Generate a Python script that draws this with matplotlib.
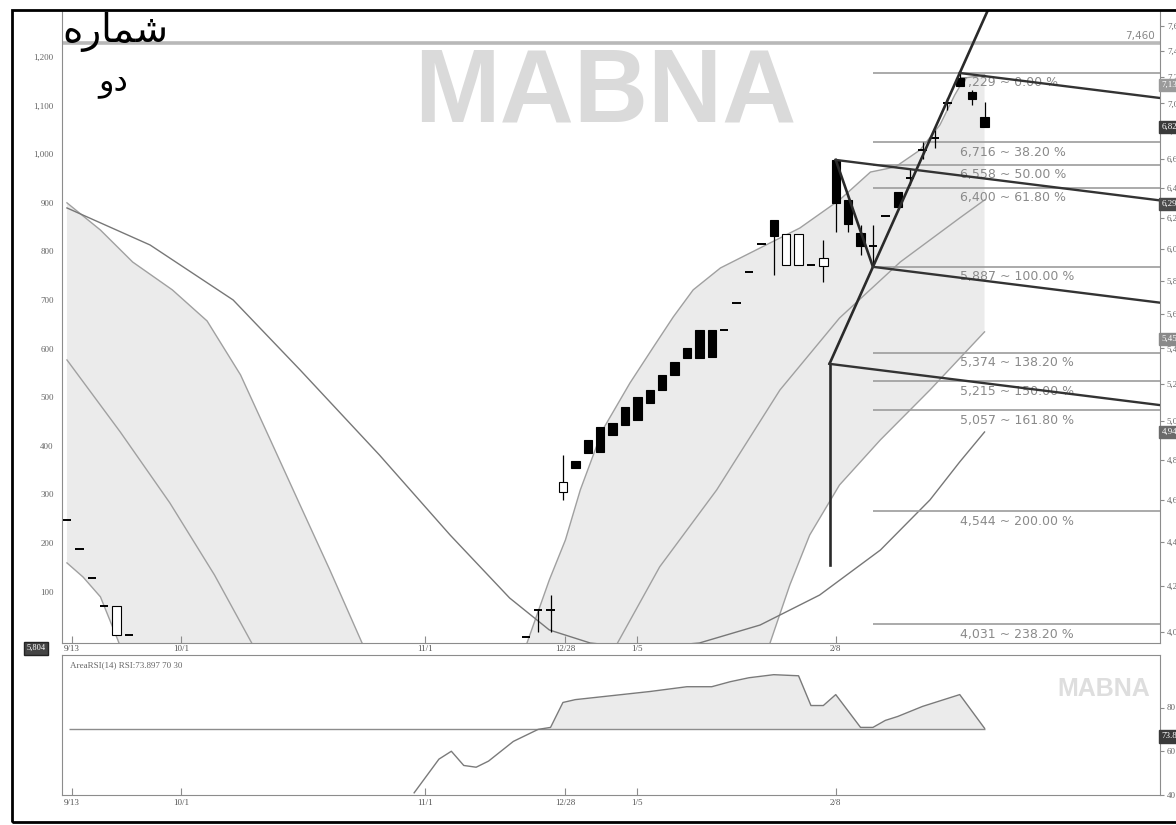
import numpy as np
import matplotlib
matplotlib.use("Agg")
import matplotlib.pyplot as plt
from matplotlib.patches import Rectangle
from matplotlib.ticker import FixedLocator, FuncFormatter, NullLocator

bar_no = [1, 2, 3, 4, 5, 6,
          38, 39, 40, 41, 42, 43, 44, 45, 46, 47, 48, 49, 50, 51, 52, 53, 54, 55, 56, 57,
          58, 59, 60, 61, 62, 63, 64, 65, 66, 67, 68, 69, 70, 71, 72, 73, 74, 75]
op = [4502, 4366, 4234, 4110, 3986, 3986,
      3977, 4093, 4093, 4638, 4793, 4901, 4968, 4990, 5075, 5129, 5167, 5250, 5323, 5402, 5506, 5506, 5506, 5666, 5855, 6031,
      6187, 5899, 5899, 5899, 5892, 6593, 6319, 6102, 6020, 6213, 6373, 6470, 6660, 6750, 7000, 7191, 7085, 6900]
hi = [4502, 4366, 4234, 4110, 4110, 3986,
      3977, 4093, 4158, 4823, 4793, 4901, 4968, 4990, 5075, 5129, 5167, 5250, 5323, 5402, 5506, 5506, 5506, 5666, 5855, 6031,
      6187, 6096, 6096, 5899, 6057, 6593, 6319, 6154, 6154, 6213, 6373, 6530, 6720, 6805, 7040, 7229, 7100, 7010]
lo = [4502, 4366, 4234, 4110, 3986, 3986,
      3977, 3999, 3999, 4599, 4757, 4833, 4839, 4927, 4979, 5006, 5096, 5167, 5250, 5345, 5345, 5351, 5506, 5666, 5855, 6031,
      5836, 5899, 5899, 5899, 5793, 6108, 6108, 5961, 5887, 6213, 6272, 6420, 6600, 6677, 6950, 7130, 6990, 6827]
cl = [4502, 4366, 4234, 4110, 4110, 3986,
      3977, 4093, 4093, 4687, 4757, 4833, 4839, 4927, 4979, 5006, 5096, 5167, 5250, 5345, 5345, 5351, 5506, 5666, 5855, 6031,
      6083, 6096, 6096, 5899, 5943, 6299, 6160, 6019, 6020, 6213, 6272, 6470, 6660, 6750, 7000, 7130, 7033, 6827]

# envelope bands (shaded), upper / middle / lower
band_a_up_x = [1, 2, 3.7, 6.3, 9.5, 12.3, 15, 17.4, 19.8, 22.2, 24.8, 26.2]
band_a_up_y = [6300, 6233, 6121, 5917, 5745, 5559, 5250, 4901, 4574, 4270, 3952, 3760]
band_a_mid_x = [1, 5.3, 9.3, 12.9, 15.9, 17]
band_a_mid_y = [5334, 4942, 4584, 4247, 3952, 3841]
band_a_low_x = [1, 2.3, 3.7, 5.1, 5.7]
band_a_low_y = [4302, 4238, 4150, 3965, 3882]

band_b_up_x = [37.5, 38.1, 39.9, 41.2, 42.4, 44.2, 46.4, 48.3, 49.9, 51.5, 53.7, 56.9,
               60.1, 63.3, 65.8, 67.8, 69.8, 71.4, 72.6, 73.4, 75]
band_b_up_y = [3861, 3952, 4225, 4408, 4648, 4953, 5205, 5408, 5583, 5745, 5880, 6006,
               6134, 6319, 6509, 6544, 6663, 6842, 7063, 7191, 7214]
band_b_mid_x = [44.4, 45.4, 48.8, 53.4, 58.5, 63.3, 68.2, 73, 75]
band_b_mid_y = [3861, 3952, 4284, 4648, 5167, 5576, 5917, 6200, 6319]
band_b_low_x = [57.1, 57.7, 59.3, 60.9, 63.3, 66.6, 70.6, 75]
band_b_low_y = [3861, 3952, 4203, 4431, 4672, 4901, 5167, 5495]

# long V shaped average
env_x = [1, 7.7, 14.4, 19.8, 26.2, 31.9, 36.7, 39.9, 43.2, 47.2, 52, 56.9, 61.7, 66.6, 70.6, 73, 75]
env_y = [6266, 6025, 5684, 5278, 4823, 4431, 4145, 4007, 3952, 3931, 3952, 4028, 4158, 4361, 4599, 4788, 4942]

# fibonacci levels from swing high 7,229 to swing low 5,887
fib_val = [7229, 6716, 6558, 6400, 5887, 5374, 5215, 5057, 4544, 4031]
fib_pct = [0.0, 38.2, 50.0, 61.8, 100.0, 138.2, 150.0, 161.8, 200.0, 238.2]
swing_hi = (73, 7229)
swing_lo = (66, 5887)
swing_top = (63, 6593)
handle = (62.5, 5312, 4293)
tine_slope = -0.00164          # log price per bar of the parallel lines
level_line = 7460

# RSI(14)
rsi_x = [29, 31, 32, 33, 34, 35, 37, 39, 40, 41, 42, 48, 51, 53, 54.5, 56, 58, 60, 61, 62, 63,
         65, 66, 67, 68, 70, 73, 75]
rsi_y = [41, 56.4, 60, 53.5, 52.7, 55.5, 64.5, 70, 70.9, 82.3, 83.6, 87.3, 89.5, 89.5, 91.8, 93.6,
         95, 94.5, 80.9, 80.9, 85.9, 70.9, 70.9, 74.1, 75.9, 80.5, 85.9, 70.5]

date_pos = [1.4, 10.2, 29.9, 41.2, 47, 63]
date_lab = ['9/13', '10/1', '11/1', '12/28', '1/5', '2/8']
right_ticks = list(range(4000, 7601, 200))
left_ticks = list(range(100, 1201, 100))

# value flags on the right edge (price, colour)
flag_val = [7138, 6827, 6292, 5454, 4942]
flag_col = ['#9a9a9a', '#3a3a3a', '#4a4a4a', '#8a8a8a', '#6a6a6a']

# "شماره دو" in presentation forms, visual order (matplotlib has no Arabic shaping)
title_1 = '\uFEE9\uFEAD\uFE8E\uFEE4\uFEB7'
title_2 = '\uFEED\uFEA9'

XMIN, XMAX = 0.6, 89.15
GREY = '#8c8c8c'


def comma(v, pos=None):
    return f"{v:,.0f}"


def draw_candles(ax):
    w = 0.34
    for x, o, h, l, c in zip(bar_no, op, hi, lo, cl):
        if h > l:
            ax.vlines(x, l, h, color='black', lw=0.9, zorder=4)
        if o == c:
            ax.hlines(o, x - w, x + w, color='black', lw=1.4, zorder=5)
        else:
            face = 'black' if o > c else 'white'
            ax.bar(x, abs(o - c), bottom=min(o, c), width=2 * w, color=face,
                   edgecolor='black', lw=0.8, zorder=5)


def main():
    fig = plt.figure(figsize=(11.76, 8.25), dpi=100)
    rect_main = [62 / 1176, 1 - 643 / 825, 1098 / 1176, 633 / 825]
    rect_rsi = [62 / 1176, 1 - 795 / 825, 1098 / 1176, 140 / 825]

    # left (linear) scale, only labels
    axl = fig.add_axes(rect_main, frameon=False)
    axl.set_ylim(-6, 1297)
    axl.set_xticks([])
    axl.yaxis.set_major_locator(FixedLocator(left_ticks))
    axl.yaxis.set_major_formatter(FuncFormatter(comma))
    axl.tick_params(axis='y', length=0, pad=6, labelsize=6.5, labelcolor='#666')
    for t in axl.get_yticklabels():
        t.set_family('Liberation Serif')

    ax = fig.add_axes(rect_main)
    ax.patch.set_alpha(0)
    ax.set_yscale('log')
    ax.set_xlim(XMIN, XMAX)
    ax.set_ylim(3952, 7728)

    # shaded bands
    ax.fill(np.r_[band_a_up_x, band_a_low_x[::-1]], np.r_[band_a_up_y, band_a_low_y[::-1]],
            color='#ebebeb', lw=0, zorder=1)
    ax.fill(np.r_[band_b_up_x, band_b_low_x[::-1]], np.r_[band_b_up_y, band_b_low_y[::-1]],
            color='#ebebeb', lw=0, zorder=1)
    for xs, ys in [(band_a_up_x, band_a_up_y), (band_a_mid_x, band_a_mid_y), (band_a_low_x, band_a_low_y),
                   (band_b_up_x, band_b_up_y), (band_b_mid_x, band_b_mid_y), (band_b_low_x, band_b_low_y)]:
        ax.plot(xs, ys, color='#a0a0a0', lw=1.0, zorder=2)
    ax.plot(env_x, env_y, color='#777777', lw=1.0, zorder=2)

    # watermark and title
    ax.text(0.4945, 0.866, 'MABNA', transform=ax.transAxes, ha='center', va='center',
            fontsize=74, fontweight='bold', family='Liberation Sans', color='#dadada', zorder=0.5)
    ax.text(0.0, 0.966, title_1, transform=ax.transAxes, ha='left', va='center',
            fontsize=28, family='DejaVu Sans', color='black', zorder=6)
    ax.text(0.0465, 0.886, title_2, transform=ax.transAxes, ha='center', va='center',
            fontsize=23, family='DejaVu Sans', color='black', zorder=6)

    # horizontal level
    ax.axhline(level_line, color='#b8b8b8', lw=2.6, zorder=2)
    ax.annotate(comma(level_line), xy=(0.995, level_line), xycoords=('axes fraction', 'data'),
                xytext=(0, 2), textcoords='offset points', ha='right', va='bottom',
                fontsize=7.5, color='#888')

    # fibonacci levels
    for val, pct in zip(fib_val, fib_pct):
        ax.hlines(val, swing_lo[0], XMAX, color='#9c9c9c', lw=1.2, zorder=2)
        ax.annotate(f"{comma(val)} ~ {pct:.2f} %", xy=(swing_hi[0], val),
                    xytext=(0, -2.5), textcoords='offset points', ha='left', va='top',
                    fontsize=9, color='#8a8a8a', zorder=3)

    draw_candles(ax)

    # swing, steep trend line, handle and parallel lines
    ax.plot([swing_top[0], swing_lo[0]], [swing_top[1], swing_lo[1]], color='#2a2a2a', lw=1.9, zorder=6)
    k = np.log(swing_hi[1] / swing_lo[1]) / (swing_hi[0] - swing_lo[0])
    xs = np.array([handle[0], 77])
    ax.plot(xs, swing_lo[1] * np.exp(k * (xs - swing_lo[0])), color='#2a2a2a', lw=1.9, zorder=6)
    ax.plot([handle[0], handle[0]], [handle[2], handle[1]], color='#2a2a2a', lw=1.9, zorder=6)
    for x0, p0 in [swing_hi, swing_top, swing_lo, handle[:2]]:
        xs = np.array([x0, XMAX])
        ax.plot(xs, p0 * np.exp(tine_slope * (xs - x0)), color='#333333', lw=1.7, zorder=6)

    # value flags
    for val, col in zip(flag_val, flag_col):
        ax.annotate(comma(val), xy=(1.0, val), xycoords=('axes fraction', 'data'),
                    xytext=(1, 0), textcoords='offset points', ha='left', va='center',
                    fontsize=6.5, color='white', family='Liberation Serif', zorder=7,
                    bbox=dict(boxstyle='square,pad=0.25', fc=col, ec=col), annotation_clip=False)

    ax.yaxis.tick_right()
    ax.yaxis.set_major_locator(FixedLocator(right_ticks))
    ax.yaxis.set_major_formatter(FuncFormatter(comma))
    ax.yaxis.set_minor_locator(NullLocator())
    ax.tick_params(axis='y', direction='out', length=3, pad=2, labelsize=6.5,
                   labelcolor='#666', color=GREY)
    ax.set_xticks(date_pos)
    ax.set_xticklabels(date_lab)
    ax.tick_params(axis='x', direction='in', length=5, pad=1.5, labelsize=6.5,
                   labelcolor='#555', color=GREY)
    for t in ax.get_xticklabels() + ax.get_yticklabels():
        t.set_family('Liberation Serif')
    for s in ['left', 'right', 'bottom']:
        ax.spines[s].set_color(GREY)
    ax.spines['top'].set_visible(False)

    # RSI panel
    ar = fig.add_axes(rect_rsi)
    ar.set_xlim(XMIN, XMAX)
    ar.set_ylim(40, 104)
    rx = np.array(rsi_x)
    ry = np.array(rsi_y)
    ar.fill_between(rx, ry, 70, where=ry >= 70, interpolate=True, color='#ebebeb', lw=0, zorder=1)
    ar.hlines(70, 1.2, 75, color='#8c8c8c', lw=1.0, zorder=2)
    ar.plot(rx, ry, color='#7a7a7a', lw=1.0, zorder=3)
    ar.text(0.0073, 0.929, 'AreaRSI(14) RSI:73.897 70 30', transform=ar.transAxes, ha='left',
            va='center', fontsize=6.5, color='#666', family='Liberation Serif')
    ar.text(0.991, 0.757, 'MABNA', transform=ar.transAxes, ha='right', va='center',
            fontsize=18, fontweight='bold', family='Liberation Sans', color='#dedede', zorder=0.5)
    ar.annotate('73.897', xy=(1.0, 66.8), xycoords=('axes fraction', 'data'), xytext=(1, 0),
                textcoords='offset points', ha='left', va='center', fontsize=6.5, color='white',
                family='Liberation Serif', bbox=dict(boxstyle='square,pad=0.25', fc='#3a3a3a', ec='#3a3a3a'),
                annotation_clip=False)
    ar.yaxis.tick_right()
    ar.set_yticks([40, 60, 80])
    ar.tick_params(axis='y', direction='out', length=3, pad=2, labelsize=6.5, labelcolor='#666', color=GREY)
    ar.set_xticks(date_pos)
    ar.set_xticklabels(date_lab)
    ar.tick_params(axis='x', direction='in', length=5, pad=3, labelsize=6.5, labelcolor='#555', color=GREY)
    for t in ar.get_xticklabels() + ar.get_yticklabels():
        t.set_family('Liberation Serif')
    for s in ['left', 'right', 'bottom', 'top']:
        ar.spines[s].set_color(GREY)

    # last price box on the left
    fig.text(36 / 1176, 1 - 648 / 825, '5,804', ha='center', va='center', fontsize=6,
             color='white', family='Liberation Serif',
             bbox=dict(boxstyle='square,pad=0.3', fc='#444', ec='#222'))

    # outer frame
    fig.add_artist(Rectangle((12 / 1176, 3 / 825), 1.2, 812 / 825, transform=fig.transFigure,
                             fill=False, ec='black', lw=2))

    fig.savefig('out.png', dpi=100)


if __name__ == "__main__":
    main()
